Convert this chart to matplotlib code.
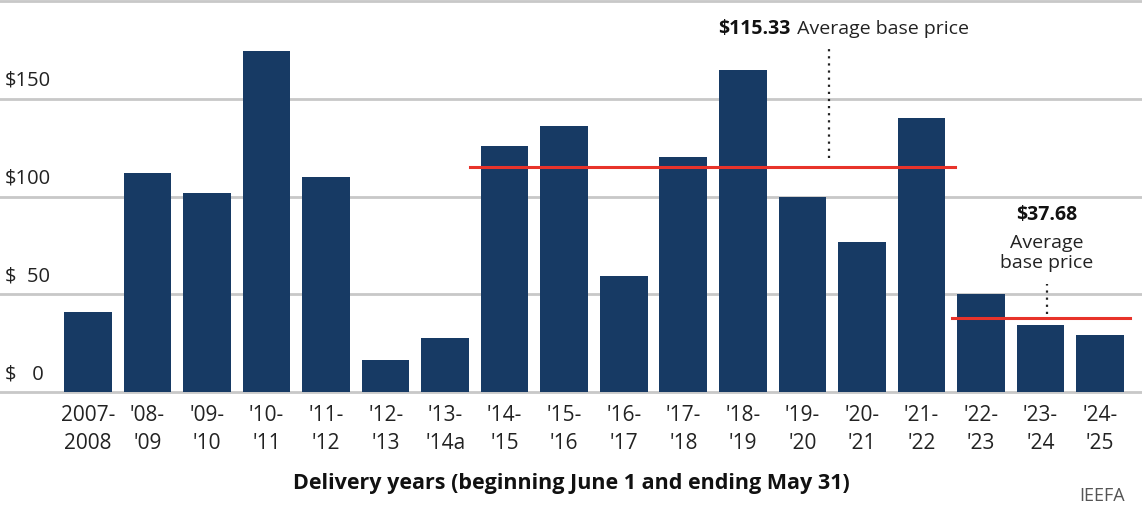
import matplotlib.pyplot as plt

years = ["2007-\n2008", "'08-\n'09", "'09-\n'10", "'10-\n'11", "'11-\n'12", "'12-\n'13",
         "'13-\n'14a", "'14-\n'15", "'15-\n'16", "'16-\n'17", "'17-\n'18", "'18-\n'19",
         "'19-\n'20", "'20-\n'21", "'21-\n'22", "'22-\n'23", "'23-\n'24", "'24-\n'25"]
prices = [40.80, 111.92, 102.04, 174.29, 110.00, 16.46, 27.73, 125.99, 136.00,
          59.37, 120.00, 164.77, 100.00, 76.53, 140.00, 50.00, 34.13, 28.92]
avg_old = 115.33
avg_new = 37.68
yticks = [0, 50, 100, 150, 200]
ylabels = ["$   0", "$  50", "$100", "$150", ""]

plt.rcParams['font.family'] = ['Open Sans', 'DejaVu Sans']
navy = "#173a64"
grid = "#c8c8c8"
red = "#e8332a"

fig = plt.figure(figsize=(11.42, 5.08), dpi=100)
ax = fig.add_axes([0, 0.2283, 1, 0.7697])

ax.bar(range(len(prices)), prices, width=0.8, color=navy, zorder=3)
ax.set_xlim(-1.478, 17.706)
ax.set_ylim(0, 200)

for v, lab in zip(yticks, ylabels):
    ax.axhline(v, color=grid, lw=2, zorder=1, clip_on=False)
    ax.text(0.004, v + 4, lab, transform=ax.get_yaxis_transform(),
            fontsize=14.5, color="#222222", va="bottom", ha="left")

for s in ax.spines.values():
    s.set_visible(False)
ax.set_yticks([])
ax.set_xticks(range(len(years)))
ax.set_xticklabels(years, fontsize=15, color="#222222", linespacing=1.45)
ax.tick_params(axis="x", length=0, pad=9)
ax.set_xlabel("Delivery years (beginning June 1 and ending May 31)",
              fontsize=15.5, fontweight="bold", color="#111111", labelpad=14)

# average lines
ax.plot([6.42, 14.56], [avg_old, avg_old], color=red, lw=2.2, zorder=4)
ax.plot([14.51, 17.5], [avg_new, avg_new], color=red, lw=2.2, zorder=4)

ax.plot([12.45, 12.45], [119.5, 175.5], color="#222222", lw=1.6, ls=(0, (1, 2.2)), zorder=4)
ax.plot([16.11, 16.11], [40, 55.5], color="#222222", lw=1.6, ls=(0, (1, 2.2)), zorder=4)

ax.text(11.8, 185.5, "$%.2f" % avg_old, fontsize=14, fontweight="bold",
        ha="right", va="center", color="#111111")
ax.text(11.82, 185.5, " Average base price", fontsize=14, ha="left", va="center", color="#222222")

ax.text(16.11, 90.5, "$%.2f" % avg_new, fontsize=14, fontweight="bold",
        ha="center", va="center", color="#111111")
ax.text(16.11, 71, "Average\nbase price", fontsize=14, ha="center", va="center",
        color="#222222", linespacing=1.15)

fig.text(0.985, 0.005, "IEEFA", fontsize=13, color="#555555", ha="right", va="bottom")

fig.savefig("out.png", dpi=100)
